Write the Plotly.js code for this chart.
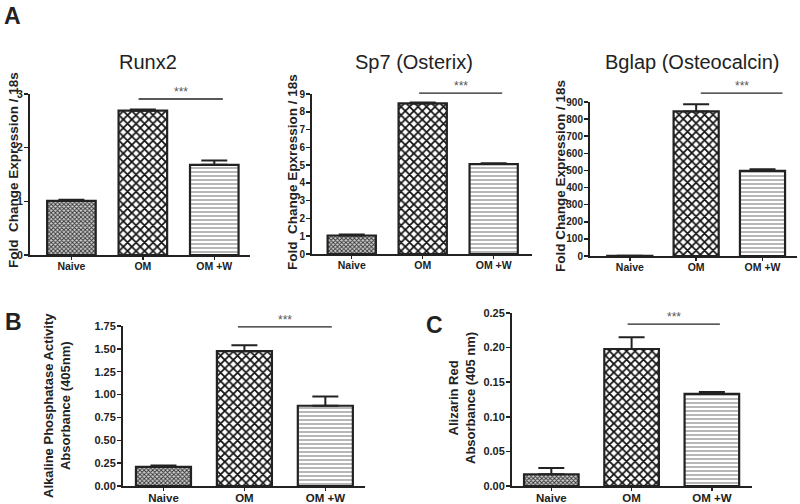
<!DOCTYPE html>
<html>
<head>
<meta charset="utf-8">
<script src="https://cdn.plot.ly/plotly-3.0.1.min.js"></script>
<style>
  html, body { margin: 0; padding: 0; background: #fff; }
  #vis { width: 800px; height: 504px; }
</style>
</head>
<body>
<div id="vis"></div>
<script>
// groups on every x axis
const groups = ['Naive', 'OM', 'OM +W']

// A: qPCR fold change (mean, upper SEM)
const runx2 = [1.01, 2.69, 1.68]
const runx2Err = [0.02, 0.02, 0.08]
const sp7 = [1.04, 8.47, 5.06]
const sp7Err = [0.05, 0.05, 0.04]
const bglap = [1, 845, 497]
const bglapErr = [0, 42, 10]

// B: alkaline phosphatase, C: alizarin red
const alp = [0.21, 1.475, 0.878]
const alpErr = [0.015, 0.065, 0.10]
const alizarin = [0.017, 0.198, 0.133]
const alizarinErr = [0.009, 0.017, 0.003]

const W = 800, H = 504
const px = x => x / W
const py = y => 1 - y / H
const ink = '#222'
const FONT = 'Liberation Sans, Arial, sans-serif'

// one pattern per group: fine check, coarse check, horizontal lines
const fills = [
  { shape: 'x', size: 3, solidity: 0.5, fgcolor: '#333', bgcolor: '#d0d0d0' },
  { shape: 'x', size: 6, solidity: 0.5, fgcolor: '#111', bgcolor: '#fff' },
  { shape: '-', size: 4, solidity: 0.3, fgcolor: '#888', bgcolor: '#fff' }
]

const panels = [
  { vals: runx2, err: runx2Err, box: [30, 250, 94, 255], range: [-0.58, 2.5], top: 3, dtick: 1, fmt: '', ys: 10.5, xs: 10.5, sig: [0.94, 2.12, 0.969] },
  { vals: sp7, err: sp7Err, box: [312, 532, 94, 254], range: [-0.56, 2.54], top: 9, dtick: 1, fmt: '', ys: 10, xs: 10.5, sig: [0.95, 2.12, 1.006] },
  { vals: bglap, err: bglapErr, box: [590, 797, 102, 256], range: [-0.6, 2.52], top: 900, dtick: 100, fmt: '', ys: 10, xs: 10.5, sig: [1.07, 2.3, 1.058] },
  { vals: alp, err: alpErr, box: [123, 365, 326, 486], range: [-0.5, 2.49], top: 1.75, dtick: 0.25, fmt: '.2f', ys: 11, xs: 11.5, sig: [0.92, 2.08, 0.994] },
  { vals: alizarin, err: alizarinErr, box: [512, 752, 313, 486], range: [-0.49, 2.5], top: 0.25, dtick: 0.05, fmt: '.2f', ys: 11, xs: 11.5, sig: [0.95, 2.1, 0.936] }
]

const data = []
const layout = {
  width: W, height: H,
  margin: { l: 0, r: 0, t: 0, b: 0 },
  paper_bgcolor: '#fff', plot_bgcolor: '#fff',
  showlegend: false,
  font: { family: FONT, color: ink },
  shapes: [],
  annotations: []
}

panels.forEach((p, i) => {
  const n = i === 0 ? '' : String(i + 1)
  const xa = 'x' + n, ya = 'y' + n
  groups.forEach((g, j) => {
    data.push({
      type: 'bar',
      x: [g], y: [p.vals[j]],
      xaxis: xa, yaxis: ya,
      width: 0.68,
      marker: {
        color: '#fff',
        pattern: fills[j],
        line: { color: ink, width: 2.2 }
      },
      error_y: {
        type: 'data', symmetric: false,
        array: [p.err[j]], arrayminus: [0],
        color: ink, thickness: 2, width: 13
      },
      hoverinfo: 'x+y'
    })
  })
  layout['xaxis' + n] = {
    domain: [px(p.box[0]), px(p.box[1])],
    anchor: ya, type: 'category', categoryorder: 'array', categoryarray: groups,
    range: p.range, fixedrange: true,
    showline: true, linecolor: ink, linewidth: 2,
    ticks: 'outside', ticklen: 3, tickwidth: 1.5, tickcolor: ink,
    ticklabelstandoff: -3,
    showgrid: false, zeroline: false,
    tickfont: { family: FONT, size: p.xs, color: ink, weight: 'bold' }
  }
  layout['yaxis' + n] = {
    domain: [py(p.box[3]), py(p.box[2])],
    anchor: xa, range: [0, p.top], dtick: p.dtick, tick0: 0, tickformat: p.fmt,
    fixedrange: true,
    showline: true, linecolor: ink, linewidth: 2,
    ticks: 'outside', ticklen: 4, tickwidth: 1.5, tickcolor: ink,
    ticklabelstandoff: -1,
    showgrid: false, zeroline: false,
    tickfont: { family: FONT, size: p.ys, color: ink, weight: 'bold' }
  }
  // significance bar OM vs OM +W
  layout.shapes.push({
    type: 'line', xref: xa, yref: ya + ' domain',
    x0: p.sig[0], x1: p.sig[1], y0: p.sig[2], y1: p.sig[2],
    line: { color: ink, width: 1.3 }
  })
  layout.annotations.push({
    text: '***', xref: xa, yref: ya + ' domain',
    x: (p.sig[0] + p.sig[1]) / 2, y: p.sig[2], yanchor: 'bottom', yshift: -2,
    showarrow: false, font: { family: FONT, size: 12, color: '#555' }
  })
})

// panel titles, letters and y titles
const labels = [
  { text: 'A', x: 12, y: 16, size: 23, bold: true },
  { text: 'B', x: 13, y: 322, size: 23, bold: true },
  { text: 'C', x: 434, y: 325, size: 23, bold: true },
  { text: 'Runx2', x: 148, y: 62, size: 20 },
  { text: 'Sp7 (Osterix)', x: 414, y: 62, size: 20 },
  { text: 'Bglap (Osteocalcin)', x: 692, y: 62, size: 20 },
  { text: 'Fold  Change Expression / 18s', x: 13, y: 170, size: 13.5, bold: true, rot: -90 },
  { text: 'Fold  Change Epxression / 18s', x: 292, y: 172, size: 13.5, bold: true, rot: -90 },
  { text: 'Fold Change Expression / 18s', x: 560, y: 176, size: 13.5, bold: true, rot: -90 },
  { text: 'Alkaline Phosphatase Activity<br>Absorbance (405nm)', x: 57, y: 405, size: 13, bold: true, rot: -90 },
  { text: 'Alizarin Red<br>Absorbance (405 nm)', x: 462, y: 398, size: 13, bold: true, rot: -90 }
]
labels.forEach(l => {
  layout.annotations.push({
    text: l.text, xref: 'paper', yref: 'paper',
    x: px(l.x), y: py(l.y), xanchor: 'center', yanchor: 'middle',
    textangle: l.rot || 0, showarrow: false,
    font: { family: FONT, size: l.size, color: ink, weight: l.bold ? 'bold' : 'normal' }
  })
})

Plotly.newPlot('vis', data, layout, { displayModeBar: false, staticPlot: true })
</script>
</body>
</html>
